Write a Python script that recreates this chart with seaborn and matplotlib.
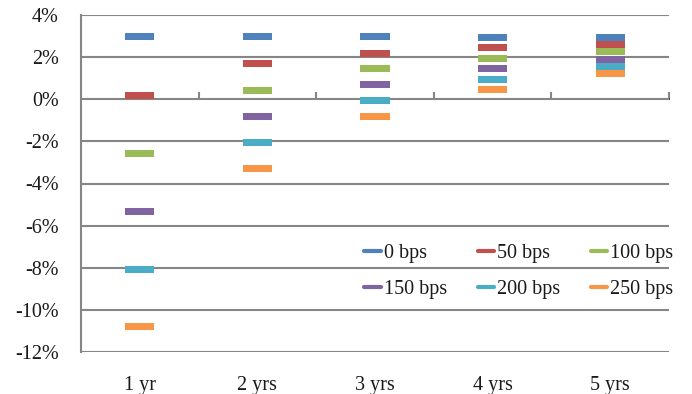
import matplotlib
matplotlib.use("Agg")
import matplotlib.pyplot as plt
from matplotlib.lines import Line2D
import seaborn as sns
import pandas as pd

categories = ["1 yr", "2 yrs", "3 yrs", "4 yrs", "5 yrs"]
series_names = ["0 bps", "50 bps", "100 bps", "150 bps", "200 bps", "250 bps"]
v_0 = [2.96, 2.96, 2.96, 2.94, 2.94]
v_50 = [0.17, 1.68, 2.17, 2.45, 2.60]
v_100 = [-2.58, 0.43, 1.44, 1.95, 2.25]
v_150 = [-5.32, -0.81, 0.70, 1.44, 1.88]
v_200 = [-8.06, -2.04, -0.05, 0.94, 1.55]
v_250 = [-10.81, -3.31, -0.81, 0.44, 1.20]
colors = ["#4F81BD", "#C0504D", "#9BBB59", "#8064A2", "#4BACC6", "#F79646"]
y_ticks = [-12, -10, -8, -6, -4, -2, 0, 2, 4]

rows = []
for name, vals in zip(series_names, [v_0, v_50, v_100, v_150, v_200, v_250]):
    for c, v in zip(categories, vals):
        rows.append({"Tenor": c, "Scenario": name, "Value": v})
df = pd.DataFrame(rows)

sns.set_theme(style="white")
plt.rcParams["font.family"] = ["Liberation Serif", "DejaVu Serif"]

fig = plt.figure(figsize=(6.92, 3.94), dpi=100)
ax = fig.add_axes([81/692, 1-352/394, (669-81)/692, (352-15)/394])

rect = [(-1, -0.24), (1, -0.24), (1, 0.24), (-1, 0.24), (-1, -0.24)]
sns.scatterplot(data=df, x="Tenor", y="Value", hue="Scenario",
                hue_order=series_names, palette=colors, marker=rect,
                s=21**2, linewidth=0, legend=False, ax=ax, zorder=3)

ax.set_xlim(-0.5, len(categories) - 0.5)
ax.set_ylim(-12, 4)
ax.set_yticks(y_ticks)
ax.set_yticklabels([f"{t}%" for t in y_ticks])
ax.set_xticks(range(len(categories)))
ax.set_xticklabels(categories)
ax.set_xlabel("")
ax.set_ylabel("")

fs = 14.5
grid_c = "#868686"
for t in y_ticks:
    ax.axhline(t, color=grid_c, lw=1.5, zorder=1)
for s in ["top", "right", "bottom"]:
    ax.spines[s].set_visible(False)
ax.spines["left"].set_color(grid_c)
ax.spines["left"].set_linewidth(1.5)
ax.tick_params(axis="y", length=5, width=1.5, color=grid_c, labelsize=fs,
               pad=11, labelcolor="#1a1a1a")
ax.tick_params(axis="x", length=0, labelsize=fs, pad=17, labelcolor="#1a1a1a")

sec = ax.secondary_xaxis(0.75)
sec.set_xticks([i + 0.5 for i in range(len(categories))])
sec.set_xticklabels([])
sec.tick_params(axis="x", length=5, width=1.5, color=grid_c, direction="out")
sec.spines["bottom"].set_visible(False)

# order so that column-major filling gives row-major reading
order = [0, 3, 1, 4, 2, 5]
handles = [Line2D([0], [0], color=colors[i], lw=3) for i in order]
labels = [series_names[i] for i in order]
leg = fig.legend(handles, labels, loc="center", bbox_to_anchor=(519/692, 1-271.5/394),
                 ncol=3, frameon=False, fontsize=fs, handlelength=0.8,
                 handletextpad=0.15, columnspacing=1.55, labelspacing=0.85)
for t in leg.get_texts():
    t.set_color("#1a1a1a")

fig.savefig("out.png", dpi=100)
